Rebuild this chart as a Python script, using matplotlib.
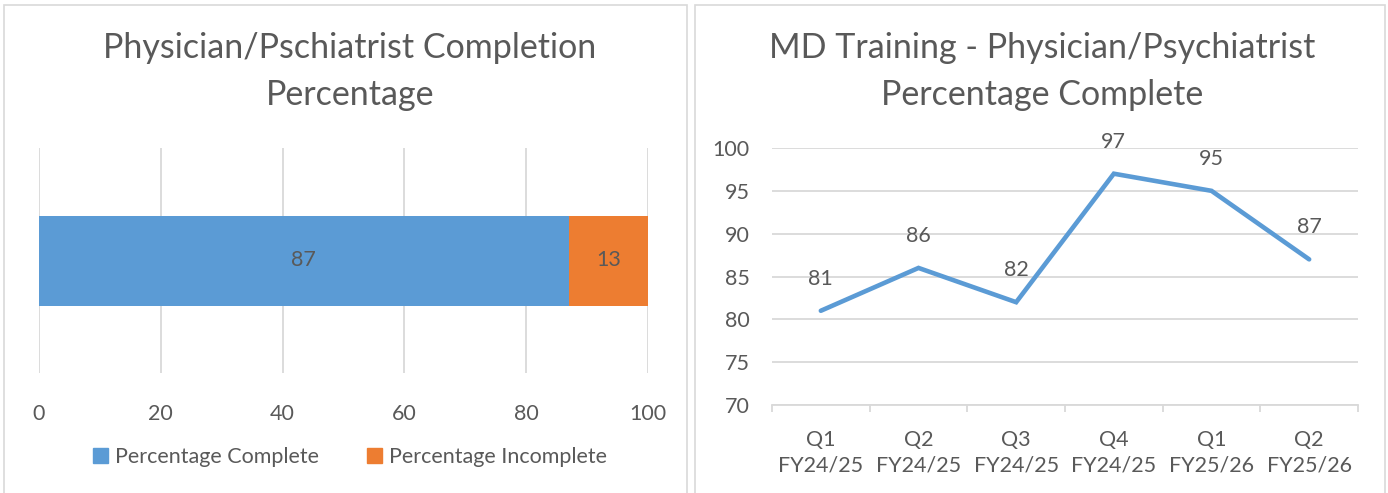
"""Physician/Psychiatrist completion: stacked bar + quarterly trend."""
import matplotlib

matplotlib.use("Agg")
import matplotlib.pyplot as plt
from matplotlib.patches import Patch, Rectangle

# data
bar_series = ["Percentage Complete", "Percentage Incomplete"]
bar_values = [87, 13]
quarters = ["Q1\nFY24/25", "Q2\nFY24/25", "Q3\nFY24/25", "Q4\nFY24/25",
            "Q1\nFY25/26", "Q2\nFY25/26"]
pct_complete = [81, 86, 82, 97, 95, 87]

BLUE = "#5B9BD5"
ORANGE = "#ED7D31"
TEXT = "#595959"
GRID = "#D9D9D9"
FS = 15.5  # labels, ticks, legend
TFS = 24.5  # titles

plt.rcParams["font.family"] = ["Lato", "DejaVu Sans"]
plt.rcParams["text.color"] = TEXT

W, H = 1388, 493
fig = plt.figure(figsize=(W / 100, H / 100), dpi=100)


def px_axes(x0, x1, ytop, ybot):
    return fig.add_axes([x0 / W, 1 - ybot / H, (x1 - x0) / W, (ybot - ytop) / H])


# panel borders
for x0, x1 in [(4, 687), (695, 1385)]:
    fig.add_artist(Rectangle((x0 / W, -0.05), (x1 - x0) / W, 1.05 - 5 / H,
                             transform=fig.transFigure, fill=False,
                             edgecolor=GRID, linewidth=1.2))

# left: stacked horizontal bar
ax1 = px_axes(39, 648, 148, 373)
left = 0
for name, val, col in zip(bar_series, bar_values, [BLUE, ORANGE]):
    ax1.barh(0, val, left=left, height=0.4, color=col, label=name, zorder=2)
    ax1.text(left + val / 2, 0, str(val), ha="center", va="center",
             fontsize=FS, color=TEXT, zorder=3)
    left += val
ax1.set_xlim(0, 100)
ax1.set_ylim(-0.5, 0.5)
ax1.set_xticks(range(0, 101, 20))
ax1.set_yticks([])
ax1.grid(axis="x", color=GRID, linewidth=1.3, zorder=0)
for s in ax1.spines.values():
    s.set_visible(False)
ax1.tick_params(axis="x", length=0, pad=22, labelsize=FS, labelcolor=TEXT)

handles = [Patch(color=BLUE), Patch(color=ORANGE)]
fig.legend(handles, bar_series, loc="center", bbox_to_anchor=(350 / W, 1 - 457 / H),
           ncol=2, frameon=False, fontsize=FS, handlelength=0.7, handleheight=0.7,
           handletextpad=0.35, columnspacing=2.2, labelcolor=TEXT)

fig.text(350 / W, 1 - 48 / H, "Physician/Pschiatrist Completion", ha="center",
         va="center", fontsize=TFS, color=TEXT)
fig.text(350 / W, 1 - 95 / H, "Percentage", ha="center", va="center",
         fontsize=TFS, color=TEXT)

# right: quarterly line
ax2 = px_axes(772, 1358, 148, 405)
x = list(range(len(quarters)))
ax2.plot(x, pct_complete, color=BLUE, linewidth=3.3, solid_capstyle="round",
         solid_joinstyle="miter", zorder=3)
for xi, v in zip(x, pct_complete):
    ax2.annotate(str(v), (xi, v), xytext=(0, 23), textcoords="offset points",
                 ha="center", va="center", fontsize=FS, color=TEXT)
ax2.set_xlim(-0.5, len(quarters) - 0.5)
ax2.set_ylim(70, 100)
ax2.set_yticks(range(70, 101, 5))
ax2.set_xticks(x)
ax2.set_xticklabels(quarters, linespacing=1.35)
ax2.set_xticks([i - 0.5 for i in range(len(quarters) + 1)], minor=True)
ax2.grid(axis="y", color=GRID, linewidth=1.3, zorder=0)
for name, s in ax2.spines.items():
    s.set_visible(name == "bottom")
ax2.spines["bottom"].set_color(GRID)
ax2.spines["bottom"].set_linewidth(1.3)
ax2.tick_params(axis="y", length=0, pad=16, labelsize=FS, labelcolor=TEXT)
ax2.tick_params(axis="x", which="major", length=0, pad=18, labelsize=FS,
                labelcolor=TEXT)
ax2.tick_params(axis="x", which="minor", length=5, width=1.3, color=GRID)

fig.text(1042 / W, 1 - 48 / H, "MD Training - Physician/Psychiatrist", ha="center",
         va="center", fontsize=TFS, color=TEXT)
fig.text(1042 / W, 1 - 95 / H, "Percentage Complete", ha="center", va="center",
         fontsize=TFS, color=TEXT)

fig.savefig("out.png", dpi=100, facecolor="white")
plt.close(fig)
